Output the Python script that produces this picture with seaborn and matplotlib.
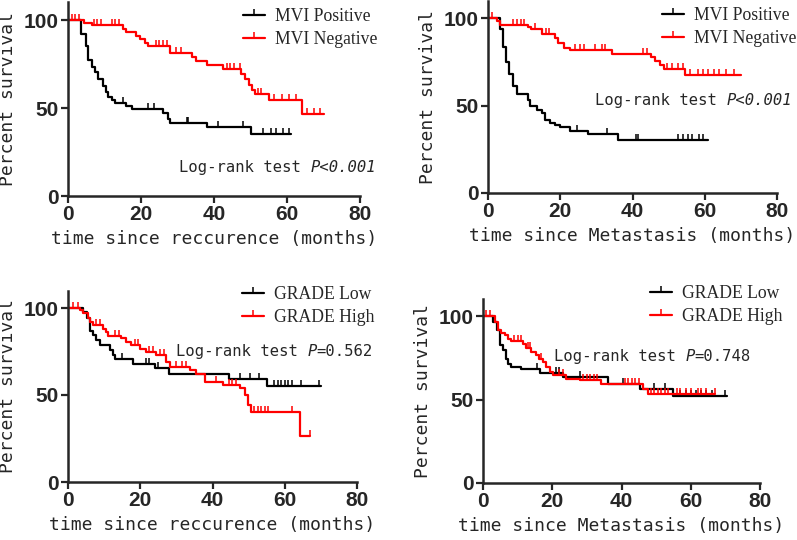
import numpy as np
import pandas as pd
import matplotlib
matplotlib.use("Agg")
import matplotlib.pyplot as plt
from matplotlib.lines import Line2D
import seaborn as sns

# ---------------- data ----------------
# Panel A: recurrence, MVI
a_pos_t = [0, 3.5, 5, 5.6, 6.5, 7.4, 8.3, 9.7, 10.4, 11, 12, 13, 16, 17.5, 26, 27.5, 28, 38, 50, 61]
a_pos_s = [100, 92, 85, 77, 73.5, 70.5, 66.5, 62.5, 59, 56.5, 54.5, 53, 51, 49.5, 47, 44, 41.5, 39, 35.5, 35.5]
a_pos_c = [15, 22, 23.5, 32.5, 33, 41, 48, 53.5, 55.5, 57, 59, 60.5]
a_neg_t = [0, 4.5, 6.5, 15, 16, 18.5, 19.7, 21, 22, 28, 34, 35, 38, 42.5, 47.5, 48.5, 49.5, 50.3, 51.2, 55, 64, 70]
a_neg_s = [100, 98.5, 97, 95, 93, 91, 89, 87, 85, 81, 79, 76.5, 74.5, 72, 69.5, 66.5, 63, 60, 58, 54.5, 46.5, 46.5]
a_neg_c = [1, 2, 3, 7, 8, 9, 12, 13, 14, 24, 25, 26, 27, 29.5, 31, 43.5, 44.5, 45.5, 47, 52, 53,
           56.5, 58.5, 60.5, 62.5, 65.5, 67.5, 69]

# Panel B: metastasis, MVI
b_pos_t = [0, 3.3, 4.2, 5, 5.9, 7, 8, 11, 11.6, 13.7, 14.9, 15.8, 17.2, 18.6, 20, 22.7, 27.8, 36, 61]
b_pos_s = [100, 94, 83.5, 75, 68, 61, 56.5, 53, 49.5, 47.5, 45.5, 42, 40, 39, 37.5, 35.5, 33.5, 30.5, 30.5]
b_pos_c = [24.5, 33, 41, 41.5, 52.5, 54, 55.5, 56.5, 58.5, 59.5]
b_neg_t = [0, 2.4, 3.3, 11, 12, 15, 18.6, 19.5, 20.9, 22.7, 34.3, 45, 46.3, 47.7, 48.6, 54.6, 70]
b_neg_s = [100, 98.5, 96, 95, 93.5, 91, 88.5, 85.5, 83, 81.5, 79.5, 78, 75.5, 73, 71, 67.5, 67.5]
b_neg_c = [1, 7, 8, 9, 10, 13, 16, 17, 24, 25.5, 26.5, 29.5, 31.5, 32.5, 43, 44, 49.5, 51, 52.5, 54,
           56, 58, 59.5, 61, 62.5, 64, 66, 68]

# Panel C: recurrence, GRADE
c_low_t = [0, 4.2, 5.3, 6, 6.9, 7.8, 8.8, 11.5, 12.5, 13, 18, 24, 28, 44.7, 55, 70]
c_low_s = [100, 97.5, 94, 87, 84.5, 81.5, 78.5, 76, 73, 70.5, 68, 65.5, 62, 59, 55, 55]
c_low_c = [15, 21.5, 22.5, 25, 47.5, 50.5, 53, 57, 58, 59, 60, 61, 62, 64.5, 69.5]
c_high_t = [0, 3.2, 4.2, 5.4, 6, 6.9, 9.7, 10.4, 11.1, 14.8, 16, 17.5, 19.8, 21.7, 24.4, 27.2, 28.1,
            33.7, 35.5, 37.8, 42.9, 47.5, 48.9, 49.8, 50.7, 64.1, 67]
c_high_s = [100, 99, 97, 94, 92, 90.5, 88, 86, 84, 82.5, 80.5, 78.5, 76.5, 75, 73, 69, 66,
            64.5, 62, 57.5, 55.5, 54, 50, 44.5, 40.5, 26.5, 26.5]
c_high_c = [1.5, 2.8, 7.8, 8.8, 13, 14, 18.5, 19.5, 22.5, 23.5, 25.5, 26.5, 30, 31.5, 32.8, 41,
            44.5, 45.5, 46.5, 51.5, 52.5, 53.5, 54.5, 55.5, 62, 67]

# Panel D: metastasis, GRADE
d_low_t = [0, 2.9, 3.9, 4.8, 5.8, 6.6, 7.2, 8.2, 11.1, 16.4, 23.1, 36.1, 45.3, 55, 70.5]
d_low_s = [100, 96.5, 91.5, 82.5, 79.5, 74.5, 71.5, 69.5, 68, 66, 63.5, 59.5, 56.5, 52, 52]
d_low_c = [15.5, 21, 22, 28, 40.5, 49.5, 52.5, 57, 58.5, 60, 61.5, 63, 64.5, 66, 70]
d_high_t = [0, 3.4, 4.3, 5.3, 6.3, 7.2, 8.2, 11.6, 12.5, 14, 15.2, 16.2, 17.3, 18.3, 19.3, 20.2,
            24.1, 28, 34, 46.3, 47.7, 67]
d_high_s = [100, 96.5, 91.5, 90, 88.5, 86.5, 85, 83, 81, 78.5, 76.5, 74.5, 72.5, 69.5, 66.5, 64.5,
            62.5, 61.5, 59.5, 56.5, 53.5, 53.5]
d_high_c = [1, 2, 9, 10, 11, 13, 13.5, 16.8, 22, 23, 29, 30, 31, 32, 33, 41, 42, 43, 44, 45, 48.5,
            49.5, 50.5, 51.5, 52.5, 53.5, 56, 57, 58.5, 60, 62, 63, 64.5, 67]

x_ticks = [0, 20, 40, 60, 80]
y_ticks = [0, 50, 100]
xlabels = ["time since reccurence (months)", "time since Metastasis (months)",
           "time since reccurence (months)", "time since Metastasis (months)"]
ylabel = "Percent survival"
legend_mvi = ["MVI Positive", "MVI Negative"]
legend_grade = ["GRADE Low", "GRADE High"]
pvals = [("P<0.001", True), ("P<0.001", True), ("P=0.562", False), ("P=0.748", False)]

# ---------------- style ----------------
sns.set_style("ticks")
W, H = 797, 540
fig = plt.figure(figsize=(W / 100, H / 100), dpi=100)

MONO = "DejaVu Sans Mono"
SERIF = "Liberation Serif"
SANS = "Liberation Sans"
BLACK = "#000000"
RED = "#ff0000"


def step_value(t, s, x):
    i = np.searchsorted(np.asarray(t), x, side="right") - 1
    return np.asarray(s)[i]


def px_axes(x0, x1, y0, y100):
    per = (y0 - y100) / 100.0
    ytop = y0 - 110 * per
    return fig.add_axes([x0 / W, (H - y0) / H, (x1 - x0) / W, (y0 - ytop) / H])


panels = [
    dict(ax=px_axes(68, 360, 196, 20),
         curves=[(a_pos_t, a_pos_s, a_pos_c, BLACK), (a_neg_t, a_neg_s, a_neg_c, RED)],
         legend=legend_mvi, leg=(243, 8), txt=(30.5, 16)),
    dict(ax=px_axes(488, 777, 193, 18),
         curves=[(b_pos_t, b_pos_s, b_pos_c, BLACK), (b_neg_t, b_neg_s, b_neg_c, RED)],
         legend=legend_mvi, leg=(662, 7), txt=(29.6, 53)),
    dict(ax=px_axes(68, 357, 482, 308),
         curves=[(c_low_t, c_low_s, c_low_c, BLACK), (c_high_t, c_high_s, c_high_c, RED)],
         legend=legend_grade, leg=(242, 286), txt=(29.9, 75)),
    dict(ax=px_axes(483, 760, 483, 316),
         curves=[(d_low_t, d_low_s, d_low_c, BLACK), (d_high_t, d_high_s, d_high_c, RED)],
         legend=legend_grade, leg=(650, 285), txt=(20.5, 75.5)),
]

for k, p in enumerate(panels):
    ax = p["ax"]
    for (t, s, c, col) in p["curves"]:
        df = pd.DataFrame({"t": t, "s": s})
        sns.lineplot(data=df, x="t", y="s", ax=ax, color=col, lw=1.6,
                     drawstyle="steps-post", estimator=None, sort=False)
        cdf = pd.DataFrame({"t": c, "s": step_value(t, s, c)})
        sns.lineplot(data=cdf, x="t", y="s", ax=ax, color=col, linestyle="",
                     marker=2, markersize=4.5, markeredgewidth=1.1,
                     markeredgecolor=col, estimator=None, sort=False)
    ax.set_xlim(0, 80)
    ax.set_ylim(0, 110)
    ax.set_xticks(x_ticks, labels=[str(v) for v in x_ticks],
                  fontfamily=SANS, fontweight="bold", fontsize=15)
    ax.set_yticks(y_ticks, labels=[str(v) for v in y_ticks],
                  fontfamily=SANS, fontweight="bold", fontsize=15)
    sns.despine(ax=ax)
    for sp in ["left", "bottom"]:
        ax.spines[sp].set_linewidth(1.8)
    ax.tick_params(axis="both", direction="out", length=5, width=1.6, pad=1.5)
    ax.set_xlabel(xlabels[k], fontfamily=MONO, fontsize=13, labelpad=4)
    ax.set_ylabel(ylabel, fontfamily=MONO, fontsize=13, labelpad=5)

    handles = [Line2D([0], [0], color=col, lw=1.6, marker=2, markersize=4.5,
                      markeredgewidth=1.1) for (_, _, _, col) in p["curves"]]
    lx, ly = p["leg"]
    ax.legend(handles, p["legend"], loc="upper left",
              bbox_to_anchor=(lx / W, 1 - ly / H), bbox_transform=fig.transFigure,
              frameon=False, borderpad=0, borderaxespad=0, handlelength=1.25,
              handletextpad=0.55, labelspacing=0.33, numpoints=1,
              prop={"family": SERIF, "size": 12.7})

    tx, ty = p["txt"]
    t1 = ax.text(tx, ty, "Log-rank test ", fontfamily=MONO, fontsize=11.2,
                 va="center", ha="left")
    ptxt, all_it = pvals[k]
    if all_it:
        ax.annotate(ptxt, xy=(1, 0.5), xycoords=t1, va="center", ha="left",
                    fontfamily=MONO, fontsize=11.2, style="italic")
    else:
        t2 = ax.annotate(ptxt[0], xy=(1, 0.5), xycoords=t1, va="center", ha="left",
                         fontfamily=MONO, fontsize=11.2, style="italic")
        ax.annotate(ptxt[1:], xy=(1, 0.5), xycoords=t2, va="center", ha="left",
                    fontfamily=MONO, fontsize=11.2)

fig.savefig("out.png", dpi=100)
